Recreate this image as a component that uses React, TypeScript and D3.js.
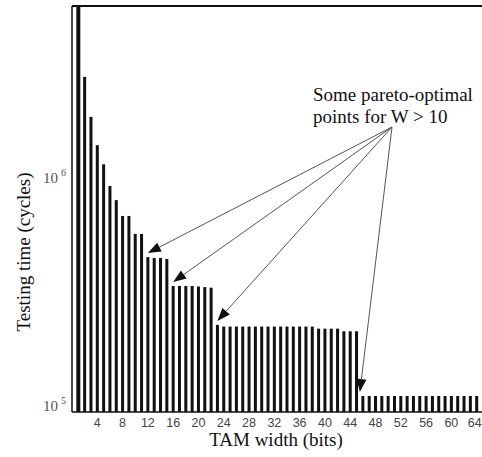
import React from "react";
import * as d3 from "d3";

const tamWidths: number[] = d3.range(1, 65);
const testTimes: number[] = [
  9.0e6, 2.95e6, 1.97e6, 1.48e6, 1.22e6, 9.8e5, 8.5e5, 7.24e5, 7.24e5, 6.04e5,
  6.04e5, 4.78e5, 4.74e5, 4.74e5, 4.69e5, 3.57e5, 3.57e5, 3.57e5, 3.57e5, 3.55e5,
  3.53e5, 3.51e5, 2.41e5, 2.37e5, 2.37e5, 2.37e5, 2.37e5, 2.37e5, 2.37e5, 2.37e5,
  2.37e5, 2.37e5, 2.37e5, 2.37e5, 2.37e5, 2.37e5, 2.37e5, 2.37e5, 2.32e5, 2.32e5,
  2.32e5, 2.32e5, 2.26e5, 2.26e5, 2.26e5, 1.175e5, 1.175e5, 1.175e5, 1.175e5, 1.175e5,
  1.175e5, 1.175e5, 1.175e5, 1.175e5, 1.175e5, 1.175e5, 1.175e5, 1.175e5, 1.175e5, 1.175e5,
  1.175e5, 1.175e5, 1.175e5, 1.175e5,
];
const xTicks: number[] = [4, 8, 12, 16, 20, 24, 28, 32, 36, 40, 44, 48, 52, 56, 60, 64];
const yTicks: number[] = [1e5, 1e6];
const paretoPoints: number[] = [12, 16, 23, 46];
const annotationLines: string[] = ["Some pareto-optimal", "points for W > 10"];

export default function App() {
  const W = 482;
  const H = 457;
  const left = 72;
  const right = 483;
  const top = 6;
  const bottom = 412;
  const x = d3.scaleLinear().domain([0, 65]).range([left, right]);
  const y = d3.scaleLog().domain([1e5, Math.pow(10, 5 + 406 / 228)]).range([bottom, top]);

  const apex = { x: 392, y: 127 };
  const arrowTips = paretoPoints.map((w) => {
    const v = testTimes[w - 1];
    return { x: x(w) - (w === 46 ? 3 : 0), y: y(v) - 4 };
  });

  return (
    <svg width={W} height={H} style={{ position: "absolute", left: 0, top: 0, background: "#fff" }}>
      <rect x={0} y={0} width={W} height={H} fill="#fff" />
      <defs>
        <clipPath id="plotclip">
          <rect x={left} y={top} width={right - left} height={bottom - top} />
        </clipPath>
      </defs>
      <g clipPath="url(#plotclip)">
        {tamWidths.map((w, i) => {
          const bw = i === 0 ? 4 : 3;
          return (
            <rect
              key={w}
              x={x(w) - bw / 2}
              y={y(testTimes[i])}
              width={bw}
              height={bottom - y(testTimes[i])}
              fill="#111"
            />
          );
        })}
      </g>
      {/* axes */}
      <line x1={left} x2={W} y1={top} y2={top} stroke="#111" strokeWidth={2} />
      <line x1={left} x2={left} y1={top} y2={bottom} stroke="#111" strokeWidth={1.5} />
      <line x1={left} x2={W} y1={bottom} y2={bottom} stroke="#111" strokeWidth={1.5} />

      {xTicks.map((t) => (
        <text
          key={t}
          x={t === 64 ? x(t) - 2 : x(t)}
          y={427}
          textAnchor="middle"
          fontFamily="'Liberation Sans', Arial, sans-serif"
          fontSize={12.5}
          fill="#444"
        >
          {t}
        </text>
      ))}
      {yTicks.map((t) => {
        const exp = Math.round(Math.log10(t));
        return (
          <text
            key={t}
            x={58}
            y={y(t) - 1}
            textAnchor="end"
            fontFamily="'Liberation Serif', 'Times New Roman', serif"
            fontSize={15}
            fill="#555"
          >
            10
            <tspan x={61} dy={-7} fontSize={10} textAnchor="start">
              {exp}
            </tspan>
          </text>
        );
      })}

      <text
        x={276}
        y={446}
        textAnchor="middle"
        fontFamily="'Liberation Serif', 'Times New Roman', serif"
        fontSize={19}
        fill="#111"
      >
        TAM width (bits)
      </text>
      <text
        transform={`translate(30, 252) rotate(-90)`}
        textAnchor="middle"
        fontFamily="'Liberation Serif', 'Times New Roman', serif"
        fontSize={19}
        fill="#111"
      >
        Testing time (cycles)
      </text>

      {annotationLines.map((s, i) => (
        <text
          key={i}
          x={313}
          y={101 + i * 22}
          fontFamily="'Liberation Serif', 'Times New Roman', serif"
          fontSize={19}
          fill="#111"
        >
          {s}
        </text>
      ))}

      {arrowTips.map((tip, i) => {
        const dx = tip.x - apex.x;
        const dy = tip.y - apex.y;
        const len = Math.sqrt(dx * dx + dy * dy);
        const ux = dx / len;
        const uy = dy / len;
        const hl = 13;
        const hw = 5;
        const bx = tip.x - ux * hl;
        const by = tip.y - uy * hl;
        const p1 = [bx - uy * hw, by + ux * hw];
        const p2 = [bx + uy * hw, by - ux * hw];
        return (
          <g key={i}>
            <line x1={apex.x} y1={apex.y} x2={bx} y2={by} stroke="#555" strokeWidth={1} />
            <polygon
              points={`${tip.x},${tip.y} ${p1[0]},${p1[1]} ${p2[0]},${p2[1]}`}
              fill="#111"
            />
          </g>
        );
      })}
    </svg>
  );
}
